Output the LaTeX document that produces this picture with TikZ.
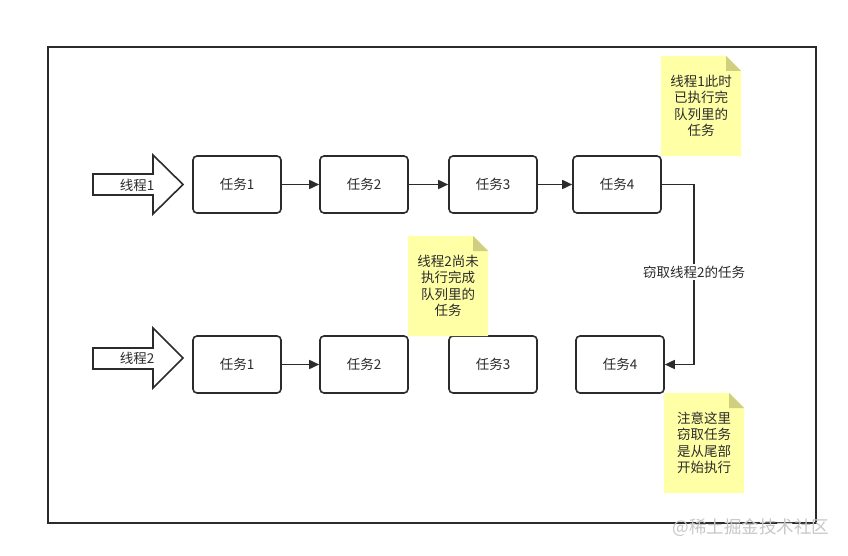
\documentclass[tikz,border=0pt]{standalone}
\usepackage{fontspec}
\setmainfont{Noto Sans CJK SC}
\usetikzlibrary{arrows.meta}
\definecolor{ink}{HTML}{2B2B2B}
\definecolor{notefill}{HTML}{FFFFA6}
\definecolor{notefold}{HTML}{CFCF7F}
\tikzset{
  taskbox/.style={draw=ink, line width=1.6pt, rounded corners=4pt, minimum width=88pt, minimum height=57pt, inner sep=0pt, font=\fontsize{13.5}{15}\selectfont, text=ink},
  link/.style={draw=ink, line width=1.6pt, -{Triangle[length=10pt,width=9pt]}},
  notetext/.style={font=\fontsize{13.5}{16.5}\selectfont, text=ink, align=center},
  lbl/.style={font=\fontsize{13.5}{15}\selectfont, text=ink},
}
\begin{document}
\begin{tikzpicture}[x=1pt,y=-1pt]
\useasboundingbox (0,0) rectangle (848,556);
\fill[white] (0,0) rectangle (848,556);
\draw[ink, line width=1.6pt] (48,47) rectangle (816,523);

% block arrows
\draw[ink, line width=1.6pt, fill=white] (93,174) -- (153,174) -- (153,155) -- (183,184.5) -- (153,214) -- (153,195) -- (93,195) -- cycle;
\node[lbl] (t1) at (137,185) {线程1};
\draw[ink, line width=1.6pt, fill=white] (93,348) -- (153,348) -- (153,328) -- (183,358) -- (153,388) -- (153,369) -- (93,369) -- cycle;
\node[lbl] (t2) at (137,358.5) {线程2};

% row 1
\node[taskbox] (a1) at (237,184.5) {任务1};
\node[taskbox] (a2) at (364,184.5) {任务2};
\node[taskbox] (a3) at (493,184.5) {任务3};
\node[taskbox] (a4) at (617,184.5) {任务4};
% row 2
\node[taskbox] (b1) at (237,364.5) {任务1};
\node[taskbox] (b2) at (364,364.5) {任务2};
\node[taskbox] (b3) at (493,364.5) {任务3};
\node[taskbox] (b4) at (620,364.5) {任务4};

\draw[link] (a1) -- (a2);
\draw[link] (a2) -- (a3);
\draw[link] (a3) -- (a4);
\draw[link] (b1) -- (b2);
\coordinate (c1) at (694,184.5);
\coordinate (c2) at (694,364.5);
\draw[link] (a4.east) -- (c1) -- (c2) -- (b4.east);
\node[fill=white, inner sep=2pt, lbl] (lab) at (694,272) {窃取线程2的任务};

% notes
\newcommand{\drawnote}[2]{%
  \fill[notefill] (#1,#2) -- ({#1+65},#2) -- ({#1+80},{#2+15}) -- ({#1+80},{#2+100}) -- (#1,{#2+100}) -- cycle;
  \fill[notefold] ({#1+65},#2) -- ({#1+80},{#2+15}) -- ({#1+65},{#2+15}) -- cycle;
}
\drawnote{661}{56}
\node[notetext] (n1) at (701,106) {线程1此时\\已执行完\\队列里的\\任务};
\drawnote{408}{236}
\node[notetext] (n2) at (448,286) {线程2尚未\\执行完成\\队列里的\\任务};
\drawnote{664}{393}
\node[notetext] (n3) at (704,443) {注意这里\\窃取任务\\是从尾部\\开始执行};

\node[font=\fontsize{17.5}{19}\selectfont, text=black!22] (wm) at (751,528) {@稀土掘金技术社区};
\end{tikzpicture}
\end{document}
